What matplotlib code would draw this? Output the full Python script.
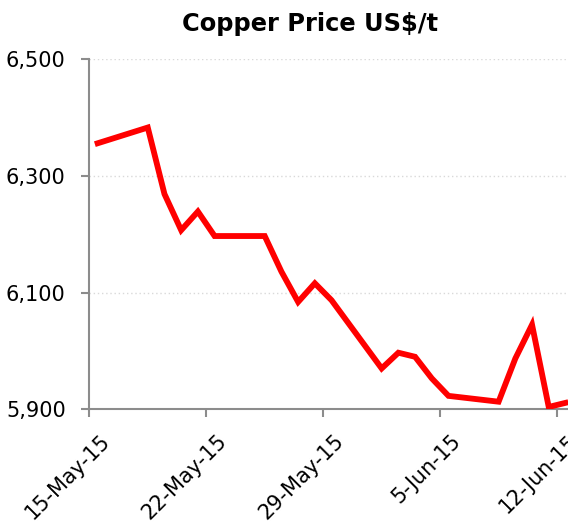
import datetime as dt
import numpy as np
import matplotlib
matplotlib.use("Agg")
import matplotlib.pyplot as plt
import matplotlib.dates as mdates
from matplotlib.ticker import FuncFormatter
from matplotlib.transforms import ScaledTranslation

# trading days and LME copper price (US$/t)
dates = ["2015-05-15", "2015-05-18", "2015-05-19", "2015-05-20", "2015-05-21",
         "2015-05-22", "2015-05-25", "2015-05-26", "2015-05-27", "2015-05-28",
         "2015-05-29", "2015-06-01", "2015-06-02", "2015-06-03", "2015-06-04",
         "2015-06-05", "2015-06-08", "2015-06-09", "2015-06-10", "2015-06-11",
         "2015-06-12"]
price = [6356, 6383, 6269, 6207, 6239, 6197, 6197, 6136, 6084, 6116,
         6087, 5970, 5997, 5990, 5953, 5923, 5913, 5987, 6045, 5904, 5911]
ytick_vals = [5900, 6100, 6300, 6500]
xtick_dates = ["2015-05-15", "2015-05-22", "2015-05-29", "2015-06-05", "2015-06-12"]

def d(s):
    return dt.datetime.strptime(s, "%Y-%m-%d")

fig = plt.figure(figsize=(5.68, 5.25), dpi=100)
ax = fig.add_axes([0.1572, 0.2204, 0.853, 0.6667])

# excel date axis puts each point in the middle of its day
t = [d(s) + dt.timedelta(hours=12) for s in dates]
ax.plot(t, price, color="#ff0000", linewidth=4.2, solid_joinstyle="miter", zorder=3)

ax.set_ylim(5900, 6500)
ax.set_yticks(ytick_vals)
ax.yaxis.set_major_formatter(FuncFormatter(lambda v, p: f"{int(v):,}"))
ax.set_xlim(d("2015-05-15"), d("2015-06-13"))
ax.set_xticks([d(s) for s in xtick_dates])
ax.xaxis.set_major_formatter(mdates.DateFormatter("%-d-%b-%y"))

ax.grid(axis="y", color="#d9d9d9", linestyle=(0, (1, 2)), linewidth=1.0)
ax.set_axisbelow(True)
for s in ["top", "right"]:
    ax.spines[s].set_visible(False)
for s in ["left", "bottom"]:
    ax.spines[s].set_color("#8c8c8c")
    ax.spines[s].set_linewidth(1.5)
ax.tick_params(axis="both", colors="#8c8c8c", length=5.5, width=1.5, labelsize=15,
               labelcolor="black")
ax.tick_params(axis="y", pad=11.5)
ax.tick_params(axis="x", pad=10)
# nudge rotated labels right, like excel does
shift = ScaledTranslation(10 / 100, 0, fig.dpi_scale_trans)
for lab in ax.get_xticklabels():
    lab.set_rotation(45)
    lab.set_ha("right")
    lab.set_rotation_mode("anchor")
    lab.set_transform(lab.get_transform() + shift)

fig.text(0.546, 0.94, "Copper Price US$/t", ha="center", va="baseline",
         fontsize=17.4, fontweight="bold")

fig.savefig("out.png", dpi=100)
